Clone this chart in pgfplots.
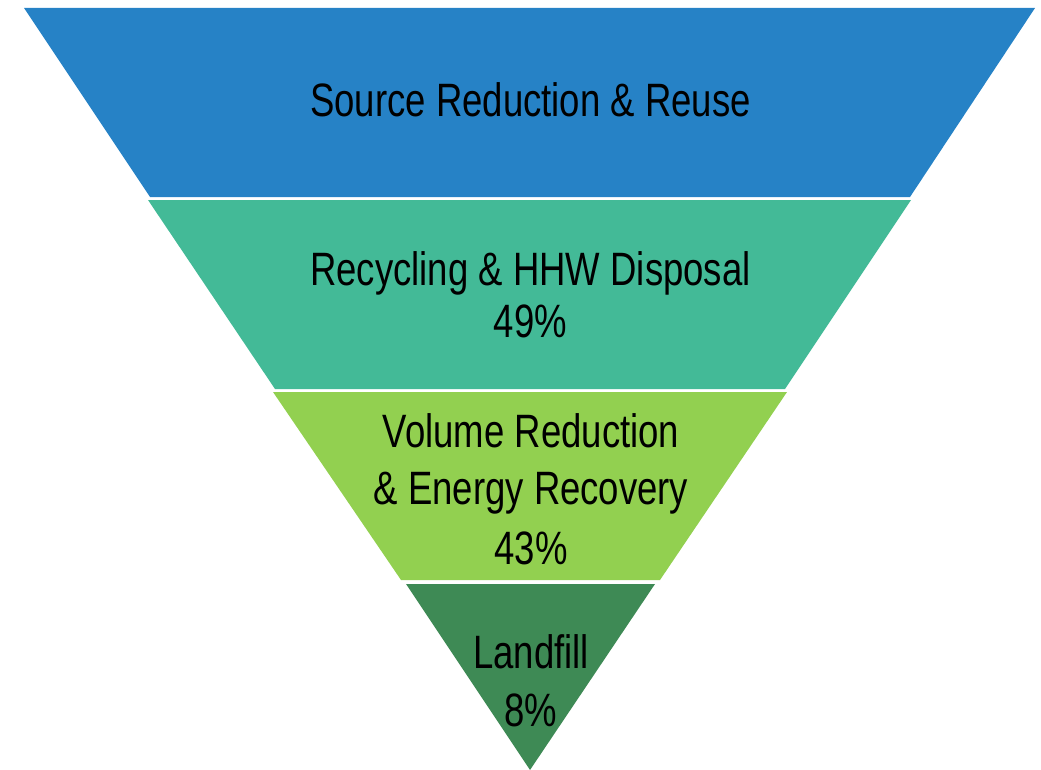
\documentclass[border=0pt]{standalone}
\usepackage{pgfplots}
\pgfplotsset{compat=1.18}
\usepackage{fontspec}
\setmainfont{Liberation Sans}[FakeStretch=0.78]
\definecolor{c1}{RGB}{38,130,198}
\definecolor{c2}{RGB}{67,186,151}
\definecolor{c3}{RGB}{146,208,80}
\definecolor{c4}{RGB}{62,138,85}
\begin{document}
\begin{tikzpicture}[x=1bp,y=1bp]
\begin{axis}[
  scale only axis, width=1041bp, height=768bp,
  xmin=0, xmax=1041, ymin=0, ymax=768, y dir=reverse,
  hide axis, clip=false,
]
\path (rel axis cs:0,0) rectangle (rel axis cs:1,1);
% band trapezoids (pixel geometry)
\addplot[fill=c1, draw=none] coordinates {(24,8) (1035,8) (910,197) (150,197)} --cycle;
\addplot[fill=c2, draw=none] coordinates {(148,200) (911,200) (785,389) (275,389)} --cycle;
\addplot[fill=c3, draw=none] coordinates {(273,392) (787,392) (660,580) (401,580)} --cycle;
\addplot[fill=c4, draw=none] coordinates {(406,584) (655,584) (530,770)} --cycle;
\tikzset{lbl/.style={anchor=base, font=\fontsize{47}{56}\selectfont, text=black, inner sep=0pt}}
\node[lbl] at (axis cs:530.5,117) {Source Reduction \& Reuse};
\node[lbl] at (axis cs:530.5,285) {Recycling \& HHW Disposal};
\node[lbl] at (axis cs:530.5,337) {49\%};
\node[lbl] at (axis cs:531,447) {Volume Reduction};
\node[lbl] at (axis cs:531,504) {\& Energy Recovery};
\node[lbl] at (axis cs:531,564) {43\%};
\node[lbl] at (axis cs:531,668) {Landfill};
\node[lbl] at (axis cs:531,726) {8\%};
\end{axis}
\end{tikzpicture}
\end{document}
